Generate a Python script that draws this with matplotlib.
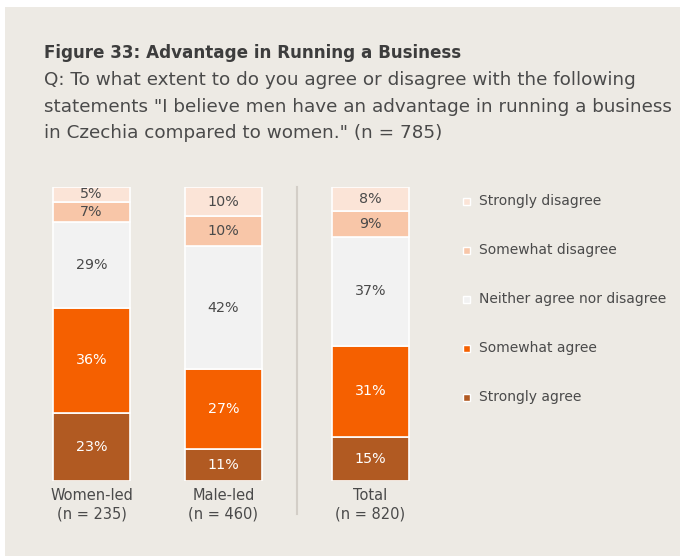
import matplotlib
matplotlib.use("Agg")
import matplotlib.pyplot as plt
from matplotlib.patches import Rectangle
import numpy as np

# data
groups = ["Women-led", "Male-led", "Total"]
group_n = ["(n = 235)", "(n = 460)", "(n = 820)"]
categories = ["Strongly agree", "Somewhat agree", "Neither agree nor disagree",
              "Somewhat disagree", "Strongly disagree"]
strongly_agree = [23, 11, 15]
somewhat_agree = [36, 27, 31]
neither = [29, 42, 37]
somewhat_disagree = [7, 10, 9]
strongly_disagree = [5, 10, 8]

colors = ["#b15a22", "#f56000", "#f2f2f2", "#f8c6a8", "#fbe4d7"]
label_colors = ["white", "white", "#4a4a4a", "#4a4a4a", "#4a4a4a"]

title = "Figure 33: Advantage in Running a Business"
subtitle = ["Q: To what extent to do you agree or disagree with the following",
            "statements \"I believe men have an advantage in running a business",
            "in Czechia compared to women.\" (n = 785)"]

BG = "#edeae4"
TXT = "#4a4a4a"
plt.rcParams['font.family'] = "DejaVu Sans"

W, H = 680, 556
fig = plt.figure(figsize=(W / 100, H / 100), dpi=100, facecolor="white")
# panel background (thin white border top/left like the source)
fig.add_artist(Rectangle((5 / W, 0), 1, 1 - 7 / H, transform=fig.transFigure,
                         facecolor=BG, edgecolor="none", zorder=-10))

def fx(px):
    return px / W

def fy(py):
    return 1 - py / H

fig.text(fx(44), fy(52.5), title, fontsize=12.1, fontweight="bold", color="#3d3d3d", va="center")
for i, line in enumerate(subtitle):
    fig.text(fx(44), fy(80 + i * 26.5), line, fontsize=13.2, color=TXT, va="center")

# bars axes
ax_l, ax_r = 40, 440
bar_top, bar_bot = 187, 481
ax = fig.add_axes([fx(ax_l), fy(bar_bot), (ax_r - ax_l) / W, (bar_bot - bar_top) / H])
ax.patch.set_alpha(0)
unit = 132.0
ax.set_xlim(-(91.5 - ax_l) / unit, (ax_r - 91.5) / unit)
ax.set_ylim(0, 100)
ax.axis("off")

xpos = np.array([0, 1, (370.5 - 91.5) / unit])
series = [strongly_agree, somewhat_agree, neither, somewhat_disagree, strongly_disagree]
bottom = np.zeros(len(groups))
for vals, c, lc in zip(series, colors, label_colors):
    vals = np.array(vals, dtype=float)
    ax.bar(xpos, vals, width=77 / unit, bottom=bottom, color=c,
           edgecolor="white", linewidth=1.2)
    for x, b, v in zip(xpos, bottom, vals):
        ax.text(x, b + v / 2, f"{int(v)}%", ha="center", va="center",
                fontsize=10.3, color=lc)
    bottom += vals

# separator line
sep_x = (297 - 91.5) / unit
ax.plot([sep_x, sep_x], [100, -(514 - bar_bot) / (bar_bot - bar_top) * 100],
        color="#d3cec7", linewidth=1.5, clip_on=False)

# group labels
for x, g, n in zip(xpos, groups, group_n):
    ax.text(x, -(495 - bar_bot) / (bar_bot - bar_top) * 100, g, ha="center",
            va="center", fontsize=10.5, color=TXT)
    ax.text(x, -(514 - bar_bot) / (bar_bot - bar_top) * 100, n, ha="center",
            va="center", fontsize=10.5, color=TXT)

# legend (top to bottom: disagree -> agree)
for i, (cat, c) in enumerate(zip(categories[::-1], colors[::-1])):
    y = 201 + i * 49
    fig.add_artist(Rectangle((fx(463), fy(y + 4)), 7 / W, 7 / H, transform=fig.transFigure,
                             facecolor=c, edgecolor="white", linewidth=1))
    fig.text(fx(479), fy(y), cat, fontsize=10, color=TXT, va="center")

fig.savefig("out.png", dpi=100, facecolor=fig.get_facecolor())
